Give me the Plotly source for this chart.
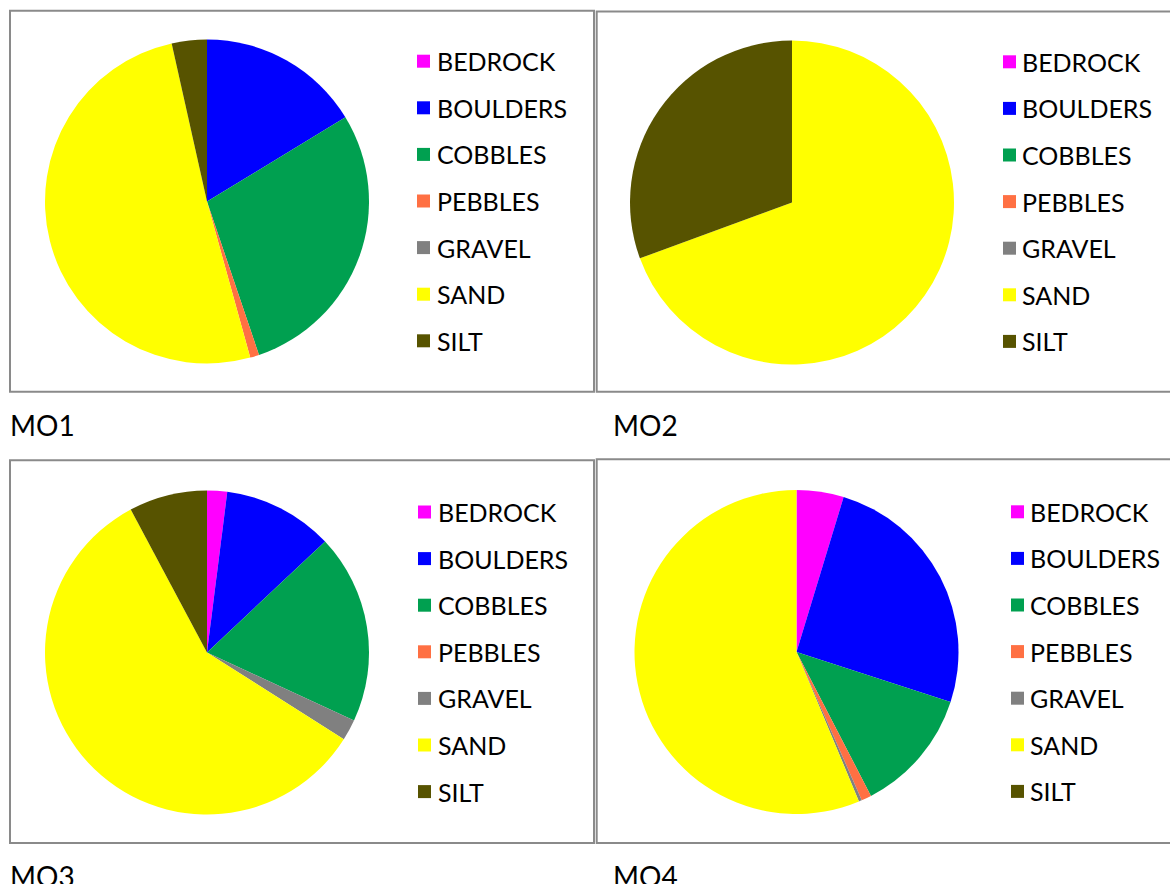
import plotly.graph_objects as go

# Substrate composition (% of area) at four monitoring sites
CATEGORIES = ["BEDROCK", "BOULDERS", "COBBLES", "PEBBLES", "GRAVEL", "SAND", "SILT"]
COLORS = ["#FF00FF", "#0000FF", "#00A050", "#FF7043", "#808080", "#FFFF00", "#575300"]

SITES = ["MO1", "MO2", "MO3", "MO4"]
MO1 = [0.0, 16.3, 28.5, 0.9, 0.0, 50.8, 3.5]
MO2 = [0.0, 0.0, 0.0, 0.0, 0.0, 69.4, 30.6]
MO3 = [2.0, 11.0, 18.9, 0.0, 2.1, 58.2, 7.8]
MO4 = [4.7, 25.3, 12.4, 1.0, 0.3, 56.3, 0.0]
SITE_VALUES = [MO1, MO2, MO3, MO4]

W, H = 1170, 884
FONT = "Lato, 'Open Sans', sans-serif"


def fx(x):
    return x / W


def fy(y):
    return 1 - y / H


# Panel layout in pixels: frame box, pie centre, legend swatch x, legend text x, first legend row y
PANELS = [
    dict(box=(10, 10.7, 594, 391.7), c=(207, 201.5), sw=417, tx=435, row0=61.2, lab=(8, 425)),
    dict(box=(596.7, 11.5, 1173, 391.7), c=(792, 202.5), sw=1003, tx=1020, row0=61.8, lab=(611, 425)),
    dict(box=(10, 460.3, 594, 843), c=(207, 652.5), sw=418, tx=436, row0=512.0, lab=(8, 876)),
    dict(box=(596.7, 459.3, 1173, 843), c=(796.5, 652), sw=1011, tx=1028, row0=511.8, lab=(611, 876)),
]
R = 162
ROW_GAP = 46.6
SW = 13

fig = go.Figure()
shapes = []
annotations = []

for site, vals, p in zip(SITES, SITE_VALUES, PANELS):
    cx, cy = p["c"]
    fig.add_trace(go.Pie(
        labels=CATEGORIES,
        values=vals,
        marker=dict(colors=COLORS, line=dict(width=0)),
        sort=False,
        direction="clockwise",
        rotation=0,
        textinfo="none",
        showlegend=False,
        domain=dict(x=[fx(cx - R), fx(cx + R)], y=[fy(cy + R), fy(cy - R)]),
        name=site,
    ))

    x0, y0, x1, y1 = p["box"]
    shapes.append(dict(type="rect", xref="paper", yref="paper",
                       x0=fx(x0), x1=fx(x1), y0=fy(y1), y1=fy(y0),
                       line=dict(color="#8A8A8A", width=2), fillcolor="rgba(0,0,0,0)"))

    # legend: coloured swatch + category name for every category
    for i, (cat, col) in enumerate(zip(CATEGORIES, COLORS)):
        ry = p["row0"] + i * ROW_GAP
        shapes.append(dict(type="rect", xref="paper", yref="paper",
                           x0=fx(p["sw"]), x1=fx(p["sw"] + SW),
                           y0=fy(ry + SW / 2), y1=fy(ry - SW / 2),
                           line=dict(width=0), fillcolor=col))
        annotations.append(dict(text=cat, xref="paper", yref="paper",
                                x=fx(p["tx"]), y=fy(ry), xanchor="left", yanchor="middle",
                                showarrow=False, font=dict(family=FONT, size=25, color="#000000")))

    lx, ly = p["lab"]
    annotations.append(dict(text=site, xref="paper", yref="paper",
                            x=fx(lx), y=fy(ly), xanchor="left", yanchor="middle",
                            showarrow=False, font=dict(family=FONT, size=28, color="#000000")))

fig.update_layout(
    width=W, height=H,
    margin=dict(l=0, r=0, t=0, b=0),
    paper_bgcolor="#FFFFFF",
    plot_bgcolor="#FFFFFF",
    shapes=shapes,
    annotations=annotations,
    font=dict(family=FONT),
)

fig.write_html("out.html", config={"displayModeBar": False})
